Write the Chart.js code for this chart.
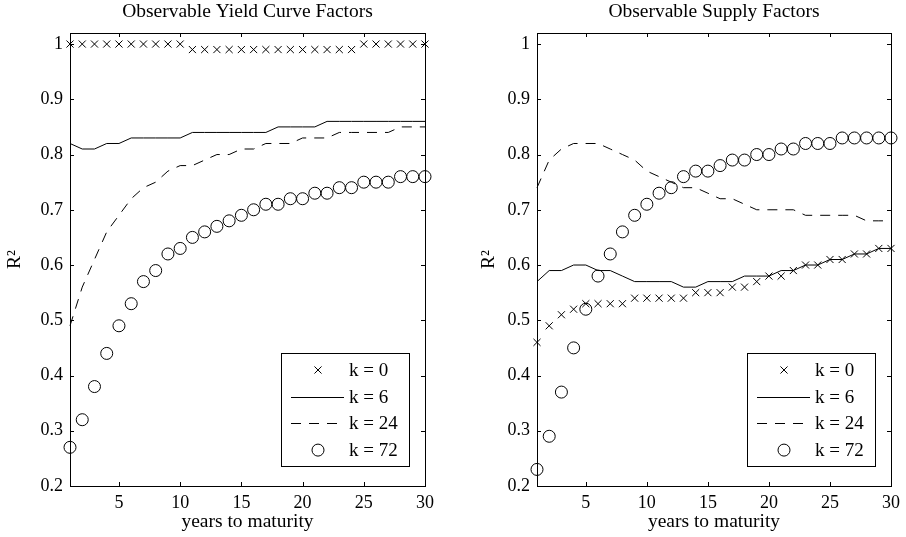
<!DOCTYPE html>
<html>
<head>
<meta charset="utf-8">
<title>Observable factors R2</title>
<script src="https://cdn.jsdelivr.net/npm/chart.js@4/dist/chart.umd.min.js"></script>
<style>
    body { margin: 0; background: #fff; }
    canvas.panel { position: absolute; top: 0; }
</style>
</head>
<body>
<canvas id="yieldChart" class="panel" width="453" height="537" style="left:0"></canvas>
<canvas id="supplyChart" class="panel" width="453" height="537" style="left:453px"></canvas>
<script>
// Maturités (années) et ticks des axes
const years = [1, 2, 3, 4, 5, 6, 7, 8, 9, 10, 11, 12, 13, 14, 15,
    16, 17, 18, 19, 20, 21, 22, 23, 24, 25, 26, 27, 28, 29, 30];
const xTickValues = [5, 10, 15, 20, 25, 30];
const yTickValues = [0.2, 0.3, 0.4, 0.5, 0.6, 0.7, 0.8, 0.9, 1];
const yTickLabels = ["0.2", "0.3", "0.4", "0.5", "0.6", "0.7", "0.8", "0.9", "1"];
const seriesLabels = ["k = 0", "k = 6", "k = 24", "k = 72"];

// Panneau gauche : facteurs de courbe observables
const yieldK0 = [1, 1, 1, 1, 1, 1, 1, 1, 1, 1,
    0.99, 0.99, 0.99, 0.99, 0.99, 0.99, 0.99, 0.99, 0.99, 0.99, 0.99, 0.99, 0.99, 0.99,
    1, 1, 1, 1, 1, 1];
const yieldK6 = [0.82, 0.81, 0.81, 0.82, 0.82, 0.83, 0.83, 0.83, 0.83, 0.83,
    0.84, 0.84, 0.84, 0.84, 0.84, 0.84, 0.84, 0.85, 0.85, 0.85,
    0.85, 0.86, 0.86, 0.86, 0.86, 0.86, 0.86, 0.86, 0.86, 0.86];
const yieldK24 = [0.49, 0.56, 0.61, 0.66, 0.69, 0.72, 0.74, 0.75, 0.77, 0.78,
    0.78, 0.79, 0.80, 0.80, 0.81, 0.81, 0.82, 0.82, 0.82, 0.83,
    0.83, 0.83, 0.84, 0.84, 0.84, 0.84, 0.84, 0.85, 0.85, 0.85];
const yieldK72 = [0.27, 0.32, 0.38, 0.44, 0.49, 0.53, 0.57, 0.59, 0.62, 0.63,
    0.65, 0.66, 0.67, 0.68, 0.69, 0.70, 0.71, 0.71, 0.72, 0.72,
    0.73, 0.73, 0.74, 0.74, 0.75, 0.75, 0.75, 0.76, 0.76, 0.76];

// Panneau droit : facteurs d'offre observables
const supplyK0 = [0.46, 0.49, 0.51, 0.52, 0.53, 0.53, 0.53, 0.53, 0.54, 0.54,
    0.54, 0.54, 0.54, 0.55, 0.55, 0.55, 0.56, 0.56, 0.57, 0.58,
    0.58, 0.59, 0.60, 0.60, 0.61, 0.61, 0.62, 0.62, 0.63, 0.63];
const supplyK6 = [0.57, 0.59, 0.59, 0.60, 0.60, 0.59, 0.59, 0.58, 0.57, 0.57,
    0.57, 0.57, 0.56, 0.56, 0.57, 0.57, 0.57, 0.58, 0.58, 0.58,
    0.59, 0.59, 0.60, 0.60, 0.61, 0.61, 0.62, 0.62, 0.63, 0.63];
const supplyK24 = [0.74, 0.79, 0.81, 0.82, 0.82, 0.82, 0.81, 0.80, 0.79, 0.77,
    0.76, 0.75, 0.74, 0.74, 0.73, 0.72, 0.72, 0.71, 0.70, 0.70,
    0.70, 0.70, 0.69, 0.69, 0.69, 0.69, 0.69, 0.68, 0.68, 0.68];
const supplyK72 = [0.23, 0.29, 0.37, 0.45, 0.52, 0.58, 0.62, 0.66, 0.69, 0.71,
    0.73, 0.74, 0.76, 0.77, 0.77, 0.78, 0.79, 0.79, 0.80, 0.80,
    0.81, 0.81, 0.82, 0.82, 0.82, 0.83, 0.83, 0.83, 0.83, 0.83];

const SERIF = '"Liberation Serif", "Times New Roman", Times, serif';
Chart.defaults.font.family = SERIF;
Chart.defaults.font.size = 18;
Chart.defaults.color = "#000";

function toPoints(values) {
    return years.map((year, i) => ({ x: year, y: values[i] }));
}

/** Cadre fermé façon MATLAB, avec graduations tournées vers l'intérieur */
const frameTicks = {
    id: "frameTicks",
    afterDraw(chart) {
        const { ctx, chartArea: a, scales } = chart;
        const len = 4;
        ctx.save();
        ctx.strokeStyle = "#000";
        ctx.lineWidth = 1;
        ctx.strokeRect(a.left + 0.5, a.top + 0.5, a.width, a.height);
        ctx.beginPath();
        xTickValues.forEach((v) => {
            const px = Math.round(scales.x.getPixelForValue(v)) + 0.5;
            ctx.moveTo(px, a.bottom);
            ctx.lineTo(px, a.bottom - len);
            ctx.moveTo(px, a.top);
            ctx.lineTo(px, a.top + len);
        });
        yTickValues.forEach((v) => {
            const py = Math.round(scales.y.getPixelForValue(v)) + 0.5;
            ctx.moveTo(a.left, py);
            ctx.lineTo(a.left + len, py);
            ctx.moveTo(a.right, py);
            ctx.lineTo(a.right - len, py);
        });
        ctx.stroke();
        ctx.restore();
    },
};

/** Légende encadrée dans le coin inférieur droit de la zone de tracé */
const boxedLegend = {
    id: "boxedLegend",
    afterDraw(chart) {
        const { ctx, chartArea: a } = chart;
        const w = 128;
        const h = 113;
        const x0 = a.right - 16 - w;
        const y0 = a.bottom - 20 - h;
        ctx.save();
        ctx.fillStyle = "#fff";
        ctx.fillRect(x0, y0, w, h);
        ctx.strokeStyle = "#000";
        ctx.lineWidth = 1;
        ctx.strokeRect(Math.round(x0) + 0.5, Math.round(y0) + 0.5, w, h);

        ctx.font = "19px " + SERIF;
        ctx.textBaseline = "middle";
        ctx.textAlign = "left";
        chart.data.datasets.forEach((ds, i) => {
            const cy = y0 + 17 + i * 26.7;
            if (ds.showLine === false) {
                ctx.strokeStyle = "#000";
                ctx.fillStyle = "rgba(0,0,0,0)";
                Chart.helpers.drawPoint(ctx, {
                    pointStyle: ds.pointStyle,
                    radius: ds.pointRadius,
                    rotation: 0,
                    borderWidth: 1,
                }, x0 + 37, cy);
            } else {
                ctx.beginPath();
                ctx.setLineDash(ds.borderDash || []);
                ctx.moveTo(x0 + 10, Math.round(cy) + 0.5);
                ctx.lineTo(x0 + 63, Math.round(cy) + 0.5);
                ctx.stroke();
                ctx.setLineDash([]);
            }
            ctx.fillStyle = "#000";
            ctx.fillText(seriesLabels[i], x0 + 68, cy + 1);
        });
        ctx.restore();
    },
};

function buildPanel(canvas, title, series, pad) {
    const [k0, k6, k24, k72] = series;
    return new Chart(canvas, {
        type: "line",
        data: {
            datasets: [
                {
                    data: toPoints(k0),
                    showLine: false,
                    pointStyle: "crossRot",
                    pointRadius: 5,
                    pointBorderWidth: 1,
                    borderColor: "#000",
                    clip: false,
                },
                {
                    data: toPoints(k6),
                    borderColor: "#000",
                    borderWidth: 1,
                    pointRadius: 0,
                    clip: false,
                },
                {
                    data: toPoints(k24),
                    borderColor: "#000",
                    borderWidth: 1,
                    borderDash: [10, 8],
                    pointRadius: 0,
                    clip: false,
                },
                {
                    data: toPoints(k72),
                    showLine: false,
                    pointStyle: "circle",
                    pointRadius: 6,
                    pointBorderWidth: 1,
                    borderColor: "#000",
                    pointBackgroundColor: "rgba(0,0,0,0)",
                    clip: false,
                },
            ],
        },
        options: {
            responsive: false,
            animation: false,
            events: [],
            layout: { padding: { left: pad.left, right: pad.right } },
            plugins: {
                legend: { display: false },
                tooltip: { enabled: false },
                // fullSize: false -> titre centré sur la zone de tracé
                title: {
                    display: true,
                    fullSize: false,
                    text: title,
                    font: { size: 19.5, weight: "normal" },
                    padding: { top: 0.5, bottom: 9.1 },
                },
            },
            scales: {
                x: {
                    type: "linear",
                    min: 1,
                    max: 30,
                    grid: { display: false, drawTicks: false },
                    border: { display: false },
                    ticks: { padding: 6, maxRotation: 0 },
                    afterBuildTicks: (scale) => {
                        scale.ticks = xTickValues.map((v) => ({ value: v }));
                    },
                    afterFit: (scale) => { scale.height = 51; },
                    title: {
                        display: true,
                        text: "years to maturity",
                        font: { size: 19.5 },
                        padding: { top: 0, bottom: 3.6 },
                    },
                },
                y: {
                    min: 0.2,
                    max: 1.02,
                    grid: { display: false, drawTicks: false },
                    border: { display: false },
                    ticks: {
                        padding: 7,
                        callback: (value, index) => yTickLabels[index],
                    },
                    afterBuildTicks: (scale) => {
                        scale.ticks = yTickValues.map((v) => ({ value: v }));
                    },
                    afterFit: (scale) => { scale.width = 70; },
                    title: {
                        display: true,
                        text: "R²",
                        font: { size: 19.5 },
                        padding: { top: pad.titleY, bottom: 0 },
                    },
                },
            },
        },
        plugins: [frameTicks, boxedLegend],
    });
}

buildPanel(
    document.getElementById("yieldChart"),
    "Observable Yield Curve Factors",
    [yieldK0, yieldK6, yieldK24, yieldK72],
    { left: 0, right: 28, titleY: 3.5 },
);

buildPanel(
    document.getElementById("supplyChart"),
    "Observable Supply Factors",
    [supplyK0, supplyK6, supplyK24, supplyK72],
    { left: 14, right: 13, titleY: 10 },
);
</script>
</body>
</html>
